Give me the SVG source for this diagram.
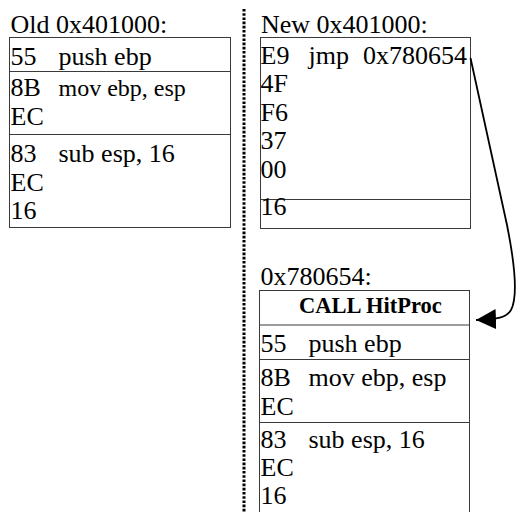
<svg xmlns="http://www.w3.org/2000/svg" width="517" height="512" viewBox="0 0 517 512">
<style>
text{font-family:"Liberation Serif","Times New Roman",serif;font-size:26px;fill:#000}
.sm{font-size:24px}
.b{font-weight:bold;font-size:22.5px}
.box{fill:#fff;stroke:#3a3a3a;stroke-width:1}
.div{stroke:#3a3a3a;stroke-width:1}
.sep{stroke:#000;stroke-width:3;stroke-dasharray:2.6 1.6}
.arrow{fill:none;stroke:#000;stroke-width:1.8}
</style>
<defs>
<marker id="ah" viewBox="0 0 20 20" refX="20" refY="10" markerWidth="20" markerHeight="20" markerUnits="userSpaceOnUse" orient="auto">
<path d="M0,0 L20,10 L0,20 z" fill="#000"/>
</marker>
</defs>
<line class="sep" x1="244" y1="9" x2="244" y2="512"/>
<g id="old">
<text x="10.5" y="33">Old 0x401000:</text>
<rect class="box" x="9.5" y="37.5" width="221" height="190"/>
<line class="div" x1="9.5" y1="71.5" x2="230.5" y2="71.5"/>
<line class="div" x1="9.5" y1="134.5" x2="230.5" y2="134.5"/>
<text x="10.5" y="64.5">55</text><text x="58.5" y="64.5">push ebp</text>
<text x="10.5" y="96">8B</text><text class="sm" x="58.5" y="96">mov ebp, esp</text>
<text x="10.5" y="124.5">EC</text>
<text x="10.5" y="162">83</text><text x="58.5" y="162">sub esp, 16</text>
<text x="10.5" y="190.5">EC</text>
<text x="10.5" y="219">16</text>
</g>
<g id="new">
<text x="261" y="33">New 0x401000:</text>
<rect class="box" x="260.5" y="37.5" width="210" height="191"/>
<line class="div" x1="260.5" y1="199.5" x2="470.5" y2="199.5"/>
<text x="260.5" y="63.5">E9</text><text x="308.5" y="63.5">jmp</text><text x="363" y="63.5">0x780654</text>
<text x="260.5" y="92">4F</text>
<text x="260.5" y="120.5">F6</text>
<text x="260.5" y="149">37</text>
<text x="260.5" y="177.5">00</text>
<text x="260.5" y="214.5">16</text>
</g>
<g id="hook">
<text x="260.5" y="285">0x780654:</text>
<rect class="box" x="259.5" y="290.5" width="210" height="230"/>
<line class="div" x1="259.5" y1="325" x2="469.5" y2="325"/>
<line class="div" x1="259.5" y1="359.5" x2="469.5" y2="359.5"/>
<line class="div" x1="259.5" y1="422.5" x2="469.5" y2="422.5"/>
<text class="b" x="299" y="313">CALL HitProc</text>
<text x="260.5" y="351.5">55</text><text x="308.5" y="351.5">push ebp</text>
<text x="260.5" y="386">8B</text><text x="308.5" y="386">mov ebp, esp</text>
<text x="260.5" y="415">EC</text>
<text x="260.5" y="447.5">83</text><text x="308.5" y="447.5">sub esp, 16</text>
<text x="260.5" y="476">EC</text>
<text x="260.5" y="504">16</text>
</g>
<g id="connectors">
<path class="arrow" d="M470.5,58 L507,225 C513,255 519,295 511,310 C506,318 498,319 476,320" marker-end="url(#ah)"/>
</g>
</svg>
